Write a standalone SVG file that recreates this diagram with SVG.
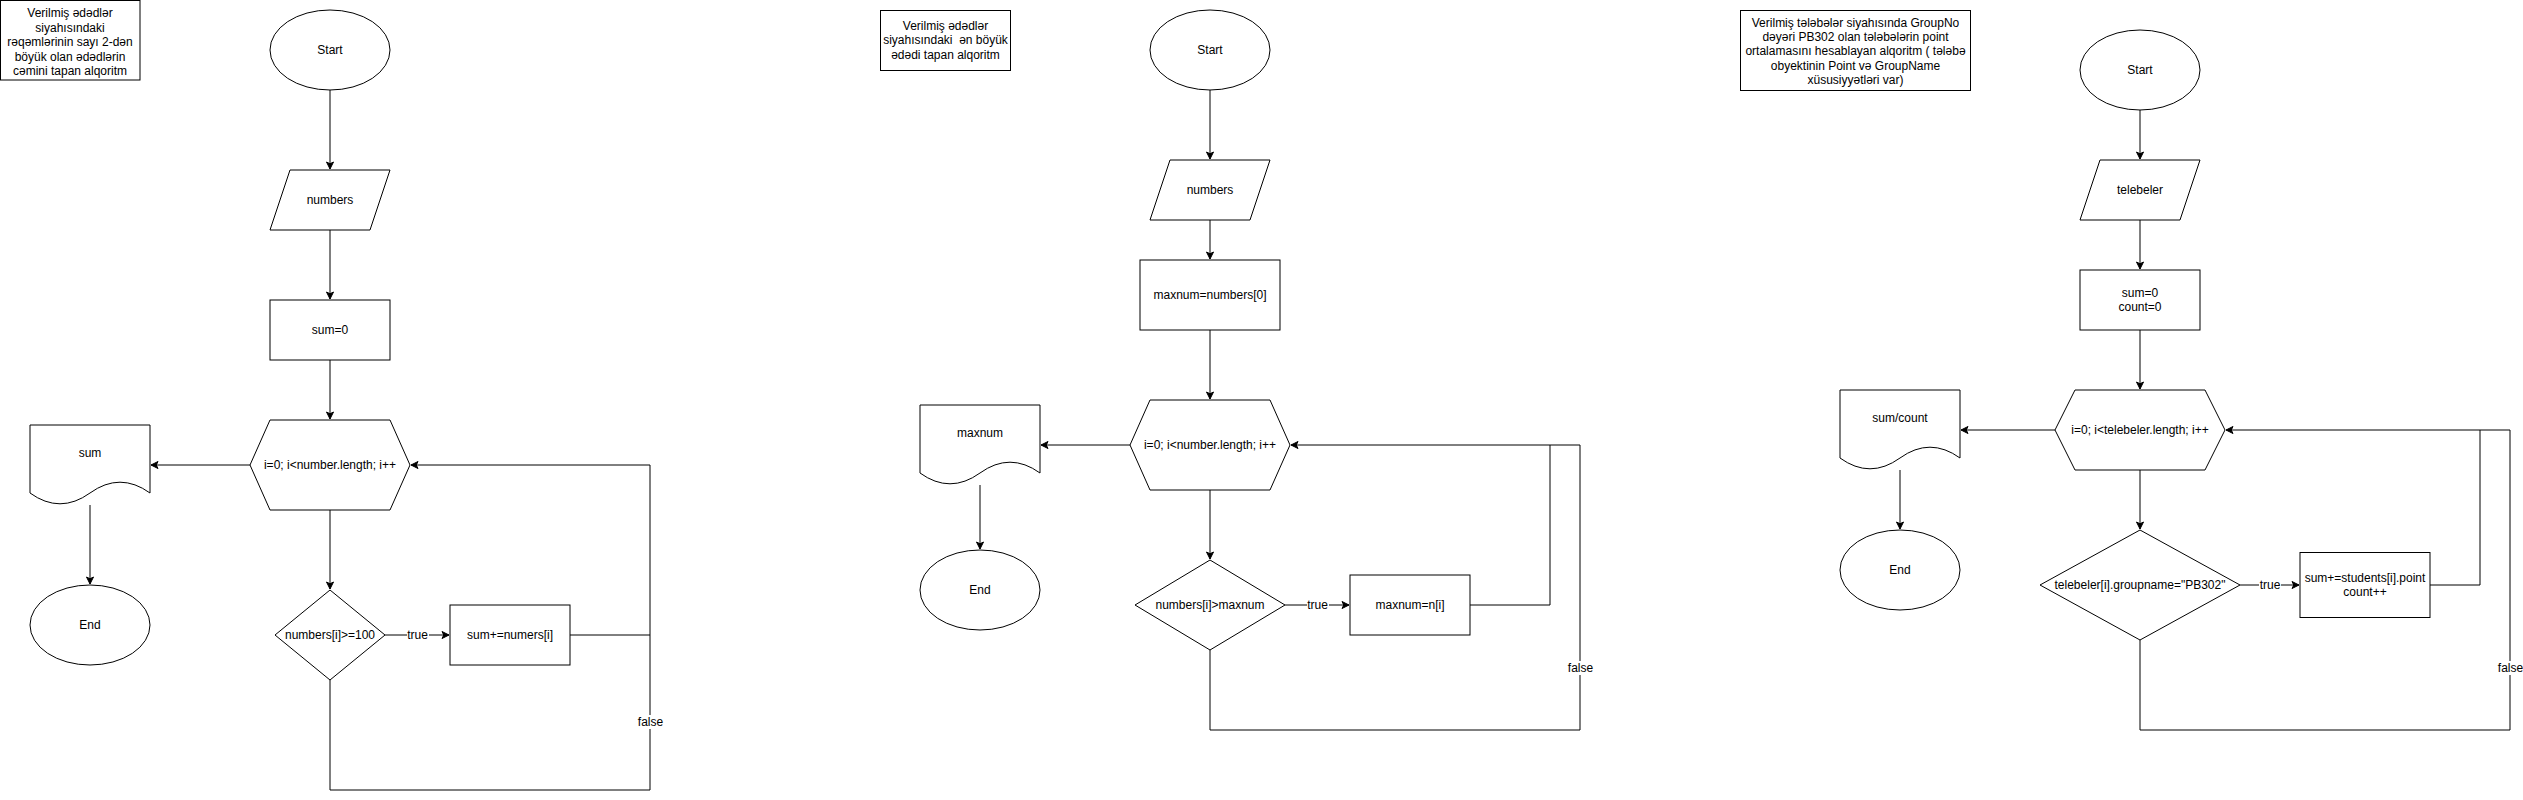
<svg xmlns="http://www.w3.org/2000/svg" width="2523" height="800" viewBox="0 0 2523 800">
<style>
.s{fill:#fff;stroke:#000;stroke-width:1}
.e{fill:none;stroke:#000;stroke-width:1}
.a{marker-end:url(#arr)}
.t{font-family:"Liberation Sans",Arial,Helvetica,sans-serif;font-size:12px;fill:#000;text-anchor:middle}
.pre{white-space:pre}
.lb{fill:#fff;stroke:none}
</style>
<defs>
<marker id="arr" markerUnits="userSpaceOnUse" markerWidth="8" markerHeight="8" refX="7" refY="3.5" orient="auto" overflow="visible">
<path d="M7,3.5 L0,0 L1.75,3.5 L0,7 Z" fill="#000" stroke="#000" stroke-width="1"/>
</marker>
</defs>
<rect width="2523" height="800" fill="#fff"/>

<g id="connectors">
<!-- diagram 1 -->
<path class="e a" d="M330,90 V169"/>
<path class="e a" d="M330,230 V299"/>
<path class="e a" d="M330,360 V419"/>
<path class="e a" d="M250,465 H151"/>
<path class="e a" d="M90,505 V584"/>
<path class="e a" d="M330,510 V589"/>
<path class="e a" d="M385,635 H449"/>
<path class="e a" d="M570,635 H650 V465 H411"/>
<path class="e" d="M330,680 V790 H650 V635"/>
<rect class="lb" x="407" y="628" width="22" height="14"/>
<text class="t" x="417.5" y="639.2">true</text>
<rect class="lb" x="637" y="715" width="27" height="14"/>
<text class="t" x="650.5" y="726.2">false</text>
<!-- diagram 2 -->
<path class="e a" d="M1210,90 V159"/>
<path class="e a" d="M1210,220 V259"/>
<path class="e a" d="M1210,330 V399"/>
<path class="e a" d="M1130,445 H1041"/>
<path class="e a" d="M980,485 V549"/>
<path class="e a" d="M1210,490 V559"/>
<path class="e a" d="M1285,605 H1349"/>
<path class="e a" d="M1470,605 H1550 V445 H1291"/>
<path class="e" d="M1210,650 V730 H1580 V445 H1550"/>
<rect class="lb" x="1307" y="598" width="22" height="14"/>
<text class="t" x="1317.5" y="609.2">true</text>
<rect class="lb" x="1567" y="661" width="27" height="14"/>
<text class="t" x="1580.5" y="672.2">false</text>
<!-- diagram 3 -->
<path class="e a" d="M2140,110 V159"/>
<path class="e a" d="M2140,220 V269"/>
<path class="e a" d="M2140,330 V389"/>
<path class="e a" d="M2055,430 H1961"/>
<path class="e a" d="M1900,470 V529"/>
<path class="e a" d="M2140,470 V529"/>
<path class="e a" d="M2240,585 H2299"/>
<path class="e a" d="M2430,585 H2480 V430 H2226"/>
<path class="e" d="M2140,640 V730 H2510 V430 H2480"/>
<rect class="lb" x="2259" y="578" width="22" height="14"/>
<text class="t" x="2270" y="589.2">true</text>
<rect class="lb" x="2497" y="661" width="27" height="14"/>
<text class="t" x="2510.5" y="672.2">false</text>
</g>

<!-- ===== Diagram 1 ===== -->
<g id="title1">
<rect class="s" x="0.5" y="0.5" width="139.5" height="79.5"/>
<text class="t" x="70" y="17">Verilmiş ədədlər</text>
<text class="t" x="70" y="31.5">siyahısındaki</text>
<text class="t" x="70" y="46">rəqəmlərinin sayı 2-dən</text>
<text class="t" x="70" y="60.5">böyük olan ədədlərin</text>
<text class="t" x="70" y="75">cəmini tapan alqoritm</text>
</g>
<g id="start1">
<ellipse class="s" cx="330" cy="50" rx="60" ry="40"/>
<text class="t" x="330" y="54.2">Start</text>
</g>
<g id="input1">
<polygon class="s" points="290,170 390,170 370,230 270,230"/>
<text class="t" x="330" y="204.2">numbers</text>
</g>
<g id="init1">
<rect class="s" x="270" y="300" width="120" height="60"/>
<text class="t" x="330" y="334.2">sum=0</text>
</g>
<g id="loop1">
<polygon class="s" points="270,420 390,420 410,465 390,510 270,510 250,465"/>
<text class="t" x="330" y="469.2">i=0; i&lt;number.length; i++</text>
</g>
<g id="output1">
<path class="s" d="M30,425 H150 V493 Q120,471.4 90,493 Q60,514.6 30,493 Z"/>
<text class="t" x="90" y="457.2">sum</text>
</g>
<g id="end1">
<ellipse class="s" cx="90" cy="625" rx="60" ry="40"/>
<text class="t" x="90" y="629.2">End</text>
</g>
<g id="cond1">
<polygon class="s" points="330,590 385,635 330,680 275,635"/>
<text class="t" x="330" y="639.2">numbers[i]&gt;=100</text>
</g>
<g id="step1">
<rect class="s" x="450" y="605" width="120" height="60"/>
<text class="t" x="510" y="639.2">sum+=numers[i]</text>
</g>

<!-- ===== Diagram 2 ===== -->
<g id="title2">
<rect class="s" x="880.5" y="10.5" width="130" height="60"/>
<text class="t" x="945.5" y="30">Verilmiş ədədlər</text>
<text class="t pre" x="945.5" y="44.4">siyahısındaki  ən böyük</text>
<text class="t" x="945.5" y="58.8">ədədi tapan alqoritm</text>
</g>
<g id="start2">
<ellipse class="s" cx="1210" cy="50" rx="60" ry="40"/>
<text class="t" x="1210" y="54.2">Start</text>
</g>
<g id="input2">
<polygon class="s" points="1170,160 1270,160 1250,220 1150,220"/>
<text class="t" x="1210" y="194.2">numbers</text>
</g>
<g id="init2">
<rect class="s" x="1140" y="260" width="140" height="70"/>
<text class="t" x="1210" y="299.2">maxnum=numbers[0]</text>
</g>
<g id="loop2">
<polygon class="s" points="1150,400 1270,400 1290,445 1270,490 1150,490 1130,445"/>
<text class="t" x="1210" y="449.2">i=0; i&lt;number.length; i++</text>
</g>
<g id="output2">
<path class="s" d="M920,405 H1040 V473 Q1010,451.4 980,473 Q950,494.6 920,473 Z"/>
<text class="t" x="980" y="437.2">maxnum</text>
</g>
<g id="end2">
<ellipse class="s" cx="980" cy="590" rx="60" ry="40"/>
<text class="t" x="980" y="594.2">End</text>
</g>
<g id="cond2">
<polygon class="s" points="1210,560 1285,605 1210,650 1135,605"/>
<text class="t" x="1210" y="609.2">numbers[i]&gt;maxnum</text>
</g>
<g id="step2">
<rect class="s" x="1350" y="575" width="120" height="60"/>
<text class="t" x="1410" y="609.2">maxnum=n[i]</text>
</g>

<!-- ===== Diagram 3 ===== -->
<g id="title3">
<rect class="s" x="1740.5" y="10.5" width="230" height="80"/>
<text class="t" x="1855.5" y="26.5">Verilmiş tələbələr siyahısında GroupNo</text>
<text class="t" x="1855.5" y="40.9">dəyəri PB302 olan tələbələrin point</text>
<text class="t" x="1855.5" y="55.3">ortalamasını hesablayan alqoritm ( tələbə</text>
<text class="t" x="1855.5" y="69.7">obyektinin Point və GroupName</text>
<text class="t" x="1855.5" y="84.1">xüsusiyyətləri var)</text>
</g>
<g id="start3">
<ellipse class="s" cx="2140" cy="70" rx="60" ry="40"/>
<text class="t" x="2140" y="74.2">Start</text>
</g>
<g id="input3">
<polygon class="s" points="2100,160 2200,160 2180,220 2080,220"/>
<text class="t" x="2140" y="194.2">telebeler</text>
</g>
<g id="init3">
<rect class="s" x="2080" y="270" width="120" height="60"/>
<text class="t" x="2140" y="297">sum=0</text>
<text class="t" x="2140" y="311.4">count=0</text>
</g>
<g id="loop3">
<polygon class="s" points="2075,390 2205,390 2225,430 2205,470 2075,470 2055,430"/>
<text class="t" x="2140" y="434.2">i=0; i&lt;telebeler.length; i++</text>
</g>
<g id="output3">
<path class="s" d="M1840,390 H1960 V458 Q1930,436.4 1900,458 Q1870,479.6 1840,458 Z"/>
<text class="t" x="1900" y="422.2">sum/count</text>
</g>
<g id="end3">
<ellipse class="s" cx="1900" cy="570" rx="60" ry="40"/>
<text class="t" x="1900" y="574.2">End</text>
</g>
<g id="cond3">
<polygon class="s" points="2140,530 2240,585 2140,640 2040,585"/>
<text class="t" x="2140" y="589.2">telebeler[i].groupname="PB302"</text>
</g>
<g id="step3">
<rect class="s" x="2300" y="552.5" width="130" height="65"/>
<text class="t" x="2365" y="582">sum+=students[i].point</text>
<text class="t" x="2365" y="596.4">count++</text>
</g>
</svg>
